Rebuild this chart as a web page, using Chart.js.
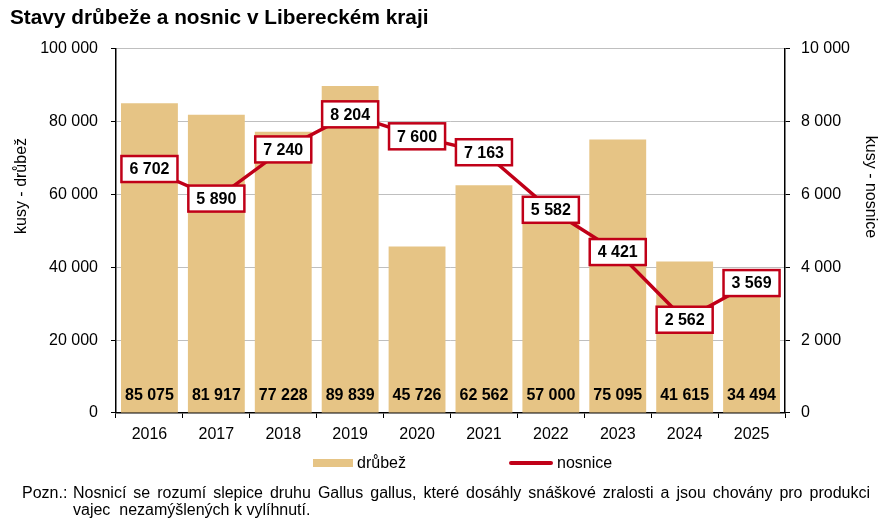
<!DOCTYPE html>
<html lang="cs">
<head>
<meta charset="utf-8">
<script src="https://cdn.jsdelivr.net/npm/chart.js@4/dist/chart.umd.min.js"></script>
<style>
  body { margin: 0; background: #fff; font-family: "Liberation Sans", Arial, sans-serif; }
  #wrap { position: relative; width: 886px; height: 528px; }
  #legend { position: absolute; top: 453px; left: 0; width: 886px; height: 20px; font-size: 16px; color: #000; }
  .sw-bar { position: absolute; left: 313px; top: 6px; width: 40px; height: 8px; background: #E6C485; }
  .sw-line { position: absolute; left: 509px; top: 8px; width: 44px; height: 4px; border-radius: 2px; background: #C00018; }
  .lg-txt { position: absolute; top: 0; line-height: 20px; }
  #note { position: absolute; left: 22px; top: 484px; width: 848px; font-size: 16px; line-height: 17px; color: #000; display: flex; }
  #note .lead { width: 51px; flex: none; }
  #note .body { flex: 1; }
  #note .l1 { text-align: justify; text-align-last: justify; white-space: nowrap; }
</style>
</head>
<body>
<div id="wrap">
  <canvas id="chart"></canvas>
  <div id="legend">
    <div class="sw-bar"></div><div class="lg-txt" style="left:357px">drůbež</div>
    <div class="sw-line"></div><div class="lg-txt" style="left:557px">nosnice</div>
  </div>
  <div id="note">
    <div class="lead">Pozn.:</div>
    <div class="body">
      <div class="l1">Nosnicí se rozumí slepice druhu Gallus gallus, které dosáhly snáškové zralosti a jsou chovány pro produkci</div>
      <div>vajec&nbsp; nezamýšlených k vylíhnutí.</div>
    </div>
  </div>
</div>
<script>
// Data
const years = ['2016', '2017', '2018', '2019', '2020', '2021', '2022', '2023', '2024', '2025'];
const drubez = [85075, 81917, 77228, 89839, 45726, 62562, 57000, 75095, 41615, 34494];   // left axis, bars
const nosnice = [6702, 5890, 7240, 8204, 7600, 7163, 5582, 4421, 2562, 3569];            // right axis, line

const BAR_COLOR = '#E6C485';
const LINE_COLOR = '#C00018';
const FONT = '"Liberation Sans", Arial, sans-serif';

// number format with space as thousands separator, e.g. "85 075"
function fmt(v) {
    return String(v).replace(/\B(?=(\d{3})+(?!\d))/g, ' ');
}

// draws the value labels and the axis titles
const labelPlugin = {
    id: 'labels',
    afterDatasetsDraw(chart) {
        const ctx = chart.ctx;
        const area = chart.chartArea;
        const barMeta = chart.getDatasetMeta(0);
        const lineMeta = chart.getDatasetMeta(1);

        ctx.save();
        ctx.textAlign = 'center';
        ctx.textBaseline = 'middle';

        // bar values at the bottom of each bar
        ctx.font = 'bold 16px ' + FONT;
        ctx.fillStyle = '#000';
        barMeta.data.forEach((bar, i) => {
            ctx.fillText(fmt(drubez[i]), bar.x, area.bottom - 17);
        });

        // boxed labels on the line points
        lineMeta.data.forEach((pt, i) => {
            const txt = fmt(nosnice[i]);
            const w = ctx.measureText(txt).width + 16;
            const h = 26;
            ctx.fillStyle = '#fff';
            ctx.fillRect(pt.x - w / 2, pt.y - h / 2, w, h);
            ctx.lineWidth = 2.5;
            ctx.strokeStyle = LINE_COLOR;
            ctx.strokeRect(pt.x - w / 2, pt.y - h / 2, w, h);
            ctx.fillStyle = '#000';
            ctx.fillText(txt, pt.x, pt.y + 1);
        });

        // axis titles
        ctx.font = '16px ' + FONT;
        ctx.save();
        ctx.translate(area.left - 94, area.top + 137);
        ctx.rotate(-Math.PI / 2);
        ctx.fillText('kusy - drůbež', 0, 0);
        ctx.restore();
        ctx.save();
        ctx.translate(area.right + 85, area.top + 138);
        ctx.rotate(Math.PI / 2);
        ctx.fillText('kusy - nosnice', 0, 0);
        ctx.restore();

        ctx.restore();
    }
};

new Chart(document.getElementById('chart'), {
    type: 'bar',
    data: {
        labels: years,
        datasets: [
            {
                label: 'drůbež',
                data: drubez,
                backgroundColor: BAR_COLOR,
                borderWidth: 0,
                barPercentage: 0.85,
                categoryPercentage: 1,
                yAxisID: 'y',
                order: 1
            },
            {
                type: 'line',
                label: 'nosnice',
                data: nosnice,
                borderColor: LINE_COLOR,
                backgroundColor: LINE_COLOR,
                borderWidth: 3.5,
                pointRadius: 0,
                fill: false,
                tension: 0,
                yAxisID: 'y1',
                order: 0
            }
        ]
    },
    options: {
        responsive: true,
        maintainAspectRatio: false,
        animation: false,
        devicePixelRatio: 1,
        layout: { padding: { left: 10, right: 0, top: 0, bottom: 80 } },
        scales: {
            x: {
                afterFit(scale) { scale.height = 35; },
                border: { color: '#000', width: 1.5 },
                grid: { drawOnChartArea: false, tickColor: '#000', tickLength: 5, offset: true },
                ticks: { color: '#000', padding: 7, font: { family: FONT, size: 16 } }
            },
            y: {
                position: 'left',
                min: 0,
                max: 100000,
                afterFit(scale) { scale.width = 106; },
                border: { color: '#000', width: 1.5 },
                grid: { color: '#BFBFBF', tickColor: '#000', tickLength: 5 },
                ticks: {
                    stepSize: 20000,
                    color: '#000',
                    padding: 13,
                    font: { family: FONT, size: 16 },
                    callback: v => fmt(v)
                }
            },
            y1: {
                position: 'right',
                min: 0,
                max: 10000,
                afterFit(scale) { scale.width = 101; },
                border: { color: '#000', width: 1.5 },
                grid: { drawOnChartArea: false, tickColor: '#000', tickLength: 5 },
                ticks: {
                    stepSize: 2000,
                    color: '#000',
                    padding: 11,
                    font: { family: FONT, size: 16 },
                    callback: v => fmt(v)
                }
            }
        },
        plugins: {
            legend: { display: false },
            tooltip: { enabled: false },
            title: {
                display: true,
                text: 'Stavy drůbeže a nosnic v Libereckém kraji',
                align: 'start',
                color: '#000',
                font: { family: FONT, size: 20.8, weight: 'bold' },
                padding: { top: 6, bottom: 18 }
            }
        }
    },
    plugins: [labelPlugin]
});
</script>
</body>
</html>
